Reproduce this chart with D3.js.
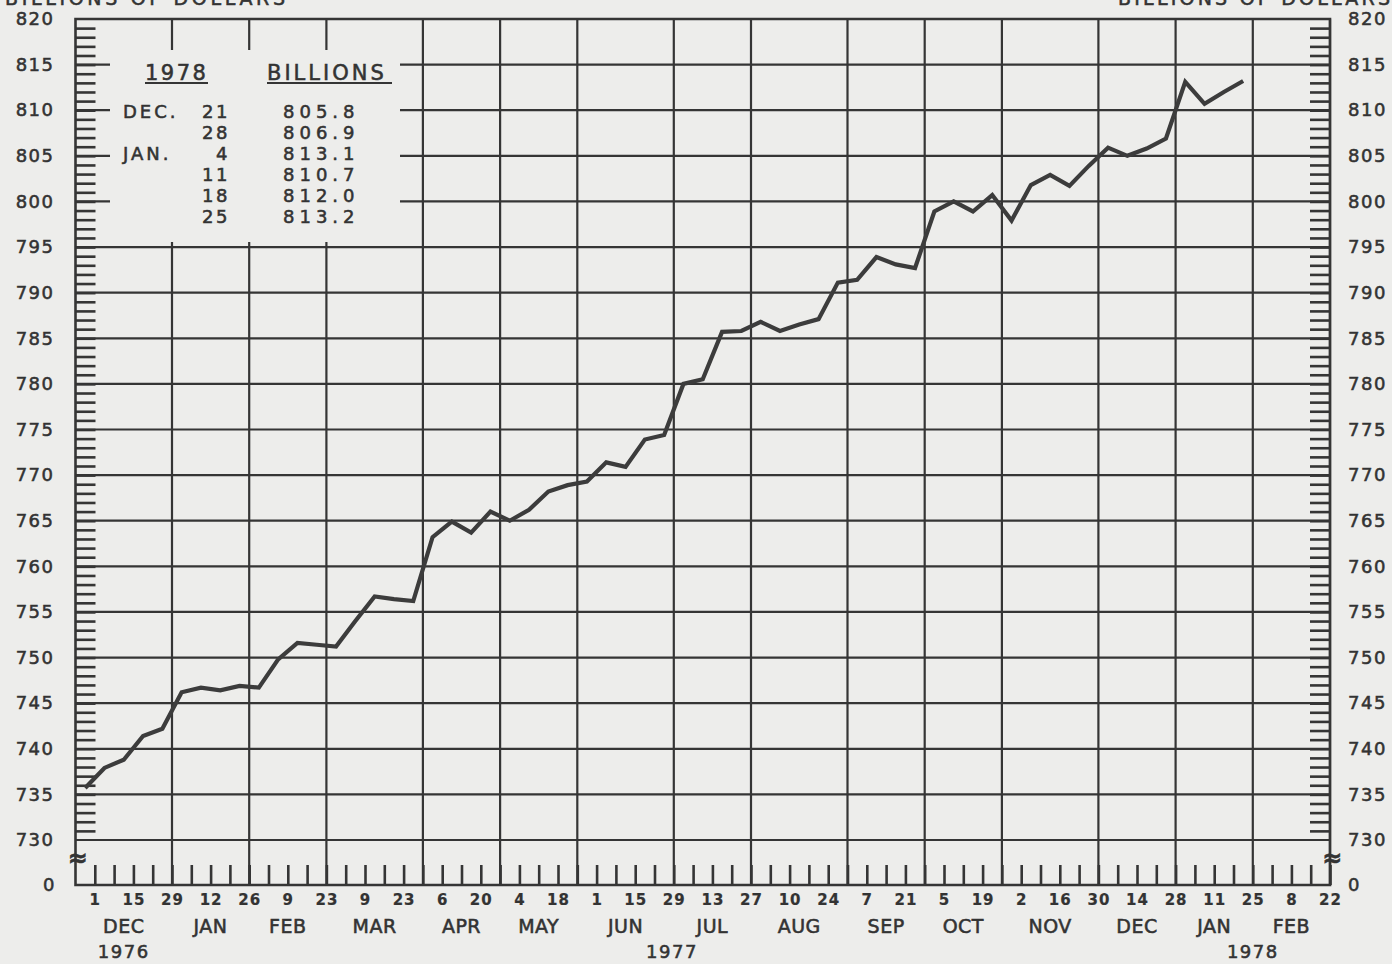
<!DOCTYPE html>
<html>
<head>
<meta charset="utf-8">
<script src="https://cdn.jsdelivr.net/npm/d3@7"></script>
<style>
  body { margin: 0; background: #ededeb; }
  svg text { font-family: "DejaVu Sans", sans-serif; fill: #333; stroke: #333; stroke-width: 0.55px; }
</style>
</head>
<body>
<div id="chart"></div>
<script>
// Weekly values (billions of dollars), Wednesdays from Dec 1 1976 to Jan 25 1978
const firstWeek = "1976-12-01";
const moneyStock = [
  735.7, 737.9, 738.8, 741.4, 742.2,
  746.2, 746.7, 746.4, 746.9,
  746.7, 749.8, 751.6, 751.4,
  751.2, 754.0, 756.7, 756.4, 756.2,
  763.2, 764.9, 763.7, 766.0,
  765.0, 766.2, 768.2, 768.9,
  769.3, 771.4, 770.9, 773.9, 774.4,
  780.0, 780.5, 785.7, 785.8,
  786.8, 785.8, 786.5, 787.1, 791.1,
  791.4, 793.9, 793.1, 792.7,
  798.9, 800.0, 798.9, 800.7,
  797.9, 801.8, 802.9, 801.7, 803.9,
  805.9, 805.0, 805.8, 806.9,
  813.1, 810.7, 812.0, 813.2
];

// axis extent and labels
const axisStart = "1976-11-24";
const axisEnd = "1978-02-22";
const yLabelValues = d3.range(730, 821, 5);
const monthLabels = ["DEC", "JAN", "FEB", "MAR", "APR", "MAY", "JUN", "JUL", "AUG", "SEP", "OCT", "NOV", "DEC", "JAN", "FEB"];
const yearLabels = ["1976", "1977", "1978"];
const yearUnderMonths = [[0, 0], [6, 7], [13, 14]];
const unitTitle = "BILLIONS OF DOLLARS";

// inset table
const tableYear = "1978";
const tableHeader = "BILLIONS";
const tableMonths = ["DEC.", "", "JAN.", "", "", ""];
const tableDays = ["21", "28", "4", "11", "18", "25"];
const tableValues = moneyStock.slice(-6);

const width = 1392;
const height = 964;
const ink = "#353535";

const parse = d3.utcParse("%Y-%m-%d");

const svg = d3
  .select("#chart")
  .append("svg")
  .attr("width", width)
  .attr("height", height);

const x = d3
  .scaleUtc()
  .domain([parse(axisStart), parse(axisEnd)])
  .range([75.5, 1330]);

const y = d3.scaleLinear().domain([730, 820]).range([840, 19]);
const baseY = 885;

const weeks = d3.utcWednesday.range(parse(firstWeek), d3.utcDay.offset(parse(axisEnd), 1));
const monthEnds = weeks.filter((w) => d3.utcDay.offset(w, 7).getUTCMonth() !== w.getUTCMonth());

// Grid

svg
  .append("g")
  .selectAll("line")
  .data(yLabelValues.filter((v) => v > 730 && v < 820).concat([730]))
  .join("line")
  .attr("x1", x.range()[0])
  .attr("x2", x.range()[1])
  .attr("y1", (d) => y(d))
  .attr("y2", (d) => y(d))
  .attr("stroke", ink)
  .attr("stroke-width", 2.2);

svg
  .append("g")
  .selectAll("line")
  .data(monthEnds)
  .join("line")
  .attr("x1", (d) => x(d))
  .attr("x2", (d) => x(d))
  .attr("y1", y(820))
  .attr("y2", baseY)
  .attr("stroke", ink)
  .attr("stroke-width", 2.2);

// blank area behind the inset table
svg
  .append("rect")
  .attr("x", 110)
  .attr("y", 50)
  .attr("width", 290)
  .attr("height", 192)
  .attr("fill", "#ededeb");

// Axes

const leftAxis = svg
  .append("g")
  .attr("transform", `translate(${x.range()[0]},0)`)
  .call(
    d3
      .axisLeft(y)
      .tickValues(d3.range(731, 820))
      .tickSizeInner(-20)
      .tickSizeOuter(0)
      .tickPadding(21)
      .tickFormat((d) => (d % 5 === 0 ? d : ""))
  );

const rightAxis = svg
  .append("g")
  .attr("transform", `translate(${x.range()[1]},0)`)
  .call(
    d3
      .axisRight(y)
      .tickValues(d3.range(731, 820))
      .tickSizeInner(-20)
      .tickSizeOuter(0)
      .tickPadding(18)
      .tickFormat((d) => (d % 5 === 0 ? d : ""))
  );

const bottomAxis = svg
  .append("g")
  .attr("transform", `translate(0,${baseY})`)
  .call(
    d3
      .axisBottom(x)
      .tickValues(weeks)
      .tickSizeInner(-20)
      .tickSizeOuter(0)
      .tickPadding(9)
      .tickFormat((d, i) => (i % 2 === 0 ? d.getUTCDate() : ""))
  );

[leftAxis, rightAxis, bottomAxis].forEach((g) => {
  g.select(".domain").remove();
  g.selectAll(".tick line").attr("stroke", ink).attr("stroke-width", 2.6);
  g.selectAll(".tick text").attr("fill", ink);
});

leftAxis.selectAll(".tick text").attr("font-size", 18).attr("letter-spacing", 1.5);
rightAxis.selectAll(".tick text").attr("font-size", 18).attr("letter-spacing", 1.5);
bottomAxis
  .selectAll(".tick text")
  .attr("font-size", 15)
  .attr("font-weight", "bold")
  .attr("letter-spacing", 1)
  .style("stroke-width", "0.2px");

// the 730 and 820 labels sit on the frame, not on a tick
[leftAxis, rightAxis].forEach((g, k) => {
  [730, 820].forEach((v) => {
    g.append("text")
      .attr("x", k === 0 ? -21 : 18)
      .attr("y", y(v))
      .attr("dy", "0.32em")
      .attr("text-anchor", k === 0 ? "end" : "start")
      .attr("font-size", 18)
      .attr("letter-spacing", 1.5)
      .attr("fill", ink)
      .text(v);
  });
  g.append("text")
    .attr("x", k === 0 ? -21 : 18)
    .attr("y", baseY)
    .attr("dy", "0.32em")
    .attr("text-anchor", k === 0 ? "end" : "start")
    .attr("font-size", 18)
    .attr("fill", ink)
    .text(0);
});

// frame
svg
  .append("path")
  .attr("d", `M${x.range()[0]},${baseY}V${y(820)}H${x.range()[1]}V${baseY}Z`)
  .attr("fill", "none")
  .attr("stroke", ink)
  .attr("stroke-width", 2.6);

// axis break marks
[x.range()[0], x.range()[1]].forEach((px) => {
  svg
    .append("text")
    .attr("x", px + 2)
    .attr("y", 866)
    .attr("text-anchor", "middle")
    .attr("font-size", 24)
    .attr("font-weight", "bold")
    .attr("fill", ink)
    .text("\u2248");
});

// month and year labels
const bounds = [x.range()[0]].concat(monthEnds.map((d) => x(d)));
const monthCenter = (i) => (bounds[i] + bounds[i + 1]) / 2;

svg
  .append("g")
  .selectAll("text")
  .data(monthLabels)
  .join("text")
  .attr("x", (d, i) => monthCenter(i))
  .attr("y", 933)
  .attr("text-anchor", "middle")
  .attr("font-size", 19)
  .attr("letter-spacing", 0.5)
  .attr("fill", ink)
  .text((d) => d);

svg
  .append("g")
  .selectAll("text")
  .data(yearLabels)
  .join("text")
  .attr("x", (d, i) => (monthCenter(yearUnderMonths[i][0]) + monthCenter(yearUnderMonths[i][1])) / 2 + (i === 1 ? 3 : 0))
  .attr("y", 958)
  .attr("text-anchor", "middle")
  .attr("font-size", 18)
  .attr("letter-spacing", 1.5)
  .attr("fill", ink)
  .text((d) => d);

// unit titles, cut by the top edge of the page
[[5, 280], [1118, 272]].forEach(([tx, tw]) => {
  svg
    .append("text")
    .attr("x", tx)
    .attr("y", 5)
    .attr("font-size", 19)
    .attr("textLength", tw)
    .attr("lengthAdjust", "spacing")
    .attr("fill", ink)
    .text(unitTitle);
});

// Line

const line = d3
  .line()
  .x((d, i) => x(d3.utcHour.offset(d3.utcDay.offset(parse(firstWeek), 7 * i), -84)))
  .y((d) => y(d));

svg
  .append("path")
  .datum(moneyStock)
  .attr("fill", "none")
  .attr("stroke", "#3c3c3c")
  .attr("stroke-width", 4.2)
  .attr("stroke-linejoin", "miter")
  .attr("d", line);

// Inset table

const table = svg.append("g").attr("fill", ink);

table
  .append("text")
  .attr("x", 145)
  .attr("y", 80)
  .attr("font-size", 21)
  .attr("letter-spacing", 2.5)
  .attr("fill", ink)
  .text(tableYear);

table
  .append("text")
  .attr("x", 267)
  .attr("y", 80)
  .attr("font-size", 21)
  .attr("letter-spacing", 3)
  .attr("fill", ink)
  .text(tableHeader);

[[145, 208], [267, 392]].forEach(([a, b]) => {
  table
    .append("line")
    .attr("x1", a)
    .attr("x2", b)
    .attr("y1", 83)
    .attr("y2", 83)
    .attr("stroke", ink)
    .attr("stroke-width", 2.2);
});

const rowY = (i) => 118 + i * 21;

table
  .selectAll(".tmonth")
  .data(tableMonths)
  .join("text")
  .attr("class", "tmonth")
  .attr("x", 123)
  .attr("y", (d, i) => rowY(i))
  .attr("font-size", 18)
  .attr("letter-spacing", 3)
  .attr("fill", ink)
  .text((d) => d);

table
  .selectAll(".tday")
  .data(tableDays)
  .join("text")
  .attr("class", "tday")
  .attr("x", 230)
  .attr("y", (d, i) => rowY(i))
  .attr("text-anchor", "end")
  .attr("font-size", 18)
  .attr("letter-spacing", 2.5)
  .attr("fill", ink)
  .text((d) => d);

table
  .selectAll(".tval")
  .data(tableValues)
  .join("text")
  .attr("class", "tval")
  .attr("x", 283)
  .attr("y", (d, i) => rowY(i))
  .attr("font-size", 18)
  .attr("letter-spacing", 5)
  .attr("fill", ink)
  .text((d) => d.toFixed(1));
</script>
</body>
</html>
